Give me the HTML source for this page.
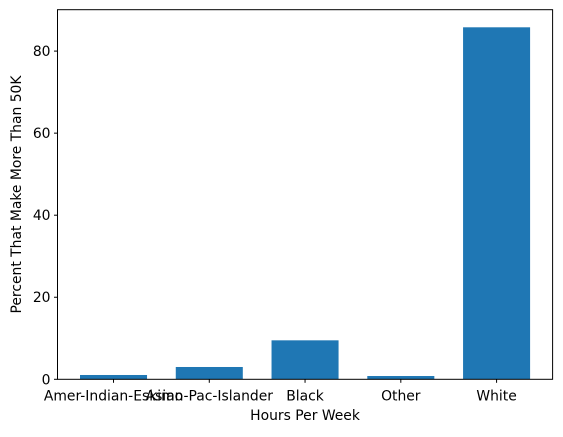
<!DOCTYPE html>
<html><head><meta charset="utf-8"><style>
html,body{margin:0;padding:0;background:#fff;}
svg text{font-family:"DejaVu Sans","Liberation Sans",sans-serif;font-size:13.9px;fill:#000;}
</style></head><body>
<svg id="chart" width="563" height="432"></svg>
<script>
const categories = ["Amer-Indian-Eskimo","Asian-Pac-Islander","Black","Other","White"];
const values = [1.05, 3.0, 9.5, 0.8, 85.8];
const yTicks = [0, 20, 40, 60, 80];

const NS = "http://www.w3.org/2000/svg";
const svg = document.getElementById("chart");
const L = 57.5, R = 552.6, T = 9.7, B = 379.3;
const xMin = -0.585, xMax = categories.length - 1 + 0.585;
const yMax = Math.max(...values) * 1.05;
const xs = v => L + (v - xMin) / (xMax - xMin) * (R - L);
const ys = v => B - v / yMax * (B - T);
function mk(tag, attrs, parent) {
  const e = document.createElementNS(NS, tag);
  for (const k in attrs) e.setAttribute(k, attrs[k]);
  (parent || svg).appendChild(e);
  return e;
}
const bw = 0.7 * (xs(1) - xs(0));
values.forEach((v, i) => {
  const r = mk("rect", {x: xs(i) - bw / 2, y: ys(v), width: bw, height: B - ys(v), fill: "#1f77b4"});
  
  
});
const frame = mk("rect", {x: L, y: T, width: R - L, height: B - T, fill: "none", stroke: "#000", "stroke-width": 1});


categories.forEach((c, i) => {
  mk("line", {x1: xs(i), x2: xs(i), y1: B, y2: B + 3.5, stroke: "#000"});
  const t = mk("text", {x: xs(i), y: B + 21, "text-anchor": "middle"});
  t.textContent = c;
  
  
});
yTicks.forEach(v => {
  mk("line", {x1: L - 3.5, x2: L, y1: ys(v), y2: ys(v), stroke: "#000"});
  const t = mk("text", {x: L - 7, y: ys(v) + 5, "text-anchor": "end"});
  t.textContent = v;
  
  
});
const xt = mk("text", {x: (L + R) / 2, y: 420, "text-anchor": "middle"});
xt.textContent = "Hours Per Week";


const yt = mk("text", {x: 0, y: 0, "text-anchor": "middle", transform: "translate(21," + ((T + B) / 2) + ") rotate(-90)"});
yt.textContent = "Percent That Make More Than 50K";


</script>
</body></html>
